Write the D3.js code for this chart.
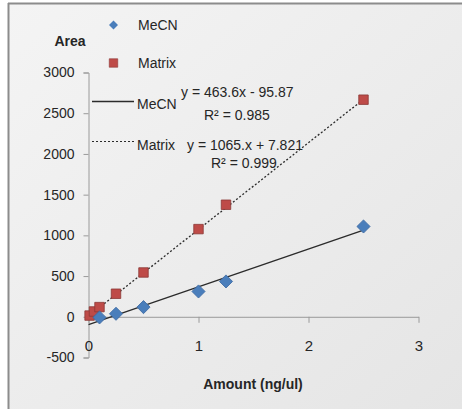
<!DOCTYPE html>
<html>
<head>
<meta charset="utf-8">
<script src="https://cdn.jsdelivr.net/npm/d3@7"></script>
<style>
  html, body { margin: 0; padding: 0; background: #ffffff; }
  svg { display: block; }
  text { font-family: "Liberation Sans", Arial, sans-serif; fill: #262626; }
</style>
</head>
<body>
<svg id="chart" width="462" height="409"></svg>
<script>
// Calibration data: peak area vs. amount injected
const matrixAmount = [0.01, 0.05, 0.1, 0.25, 0.5, 1, 1.25, 2.5];
const matrixArea   = [15, 65, 119, 283, 544, 1077, 1376, 2666];
const mecnAmount   = [0.1, 0.25, 0.5, 1, 1.25, 2.5];
const mecnArea     = [-8, 37, 119, 311, 434, 1109];

// Linear fits (slope, intercept, R²)
const mecnFit   = { slope: 463.6, intercept: -95.87, label: "y = 463.6x - 95.87", r2Label: "R² = 0.985" };
const matrixFit = { slope: 1065,  intercept: 7.821,  label: "y = 1065.x + 7.821", r2Label: "R² = 0.999" };
const fitRange  = [0, 2.5];

const xTicks = [0, 1, 2, 3];
const yTicks = [-500, 0, 500, 1000, 1500, 2000, 2500, 3000];

const svg = d3.select("#chart");
const textColor = "#262626";

// chart area background with a soft gradient
const defs = svg.append("defs");
const grad = defs.append("linearGradient").attr("id", "bg")
  .attr("x1", "0").attr("y1", "0").attr("x2", "1").attr("y2", "1");
grad.append("stop").attr("offset", "0%").attr("stop-color", "#f4f4f4");
grad.append("stop").attr("offset", "100%").attr("stop-color", "#e5e5e5");

svg.append("rect").attr("x", 8).attr("y", 3).attr("width", 454).attr("height", 406)
  .attr("fill", "url(#bg)");
svg.append("line").attr("x1", 8).attr("x2", 462).attr("y1", 3.5).attr("y2", 3.5)
  .attr("stroke", "#8c8c8c").attr("stroke-width", 2);
svg.append("line").attr("x1", 8.5).attr("x2", 8.5).attr("y1", 3).attr("y2", 409)
  .attr("stroke", "#8c8c8c").attr("stroke-width", 2);

const x = d3.scaleLinear().domain([0, 3]).range([88.5, 418.5]);
const y = d3.scaleLinear().domain([-500, 3000]).range([357.5, 72.5]);

// Y axis
const yAxis = svg.append("g").attr("transform", `translate(${x(0)},0)`)
  .call(d3.axisLeft(y).tickValues(yTicks).tickSize(5).tickPadding(9).tickFormat(d => String(d)));
yAxis.select(".domain").attr("stroke", "#9a9a9a");
yAxis.selectAll(".tick line").attr("stroke", "#9a9a9a");
yAxis.selectAll(".tick text").attr("font-size", 14).attr("fill", textColor)
  .attr("font-family", "Liberation Sans, Arial, sans-serif");

// X axis on the zero line
const xAxis = svg.append("g").attr("transform", `translate(0,${y(0)})`)
  .call(d3.axisBottom(x).tickValues(xTicks).tickSize(6).tickSizeOuter(0).tickPadding(18).tickFormat(d => String(d)));
xAxis.select(".domain").attr("stroke", "#9a9a9a");
xAxis.selectAll(".tick line").attr("stroke", "#9a9a9a");
xAxis.selectAll(".tick text").attr("font-size", 15).attr("fill", textColor)
  .attr("font-family", "Liberation Sans, Arial, sans-serif");

// Axis titles
svg.append("text").attr("x", 70).attr("y", 46).attr("text-anchor", "middle")
  .attr("font-size", 14).attr("font-weight", "bold").text("Area");
svg.append("text").attr("x", 253).attr("y", 389).attr("text-anchor", "middle")
  .attr("font-size", 14).attr("font-weight", "bold").text("Amount (ng/ul)");

// Trendlines
const fitLine = f => d3.line()
  .x(d => x(d))
  .y(d => y(f.slope * d + f.intercept));

svg.append("path").datum(fitRange).attr("d", fitLine(mecnFit))
  .attr("fill", "none").attr("stroke", "#2b2b2b").attr("stroke-width", 1.3);
svg.append("path").datum(fitRange).attr("d", fitLine(matrixFit))
  .attr("fill", "none").attr("stroke", "#2b2b2b").attr("stroke-width", 1.3)
  .attr("stroke-dasharray", "2,2");

const blue = "#4a7ebb", blueEdge = "#3d6aa3";
const red = "#be4b48", redEdge = "#8c3836";

const diamond = d3.symbol(d3.symbolSquare, 86)();
const square = d3.symbol(d3.symbolSquare, 90)();

// Matrix points
svg.append("g").selectAll("path").data(matrixAmount).join("path")
  .attr("d", square)
  .attr("transform", (d, i) => `translate(${x(d)},${y(matrixArea[i])})`)
  .attr("fill", red).attr("stroke", redEdge).attr("stroke-width", 0.8);

// MeCN points
svg.append("g").selectAll("path").data(mecnAmount).join("path")
  .attr("d", diamond)
  .attr("transform", (d, i) => `translate(${x(d)},${y(mecnArea[i])}) rotate(45)`)
  .attr("fill", blue).attr("stroke", blueEdge).attr("stroke-width", 0.8);

// Legend
const legend = svg.append("g");
legend.append("path").attr("d", d3.symbol(d3.symbolSquare, 40)())
  .attr("transform", "translate(113.5,25) rotate(45)").attr("fill", blue);
legend.append("text").attr("x", 138).attr("y", 30).attr("font-size", 14).text("MeCN");
legend.append("path").attr("d", d3.symbol(d3.symbolSquare, 72)())
  .attr("transform", "translate(113.5,63)").attr("fill", red).attr("stroke", redEdge).attr("stroke-width", 0.6);
legend.append("text").attr("x", 138).attr("y", 68).attr("font-size", 14).text("Matrix");

legend.append("line").attr("x1", 92).attr("x2", 134).attr("y1", 101.5).attr("y2", 101.5)
  .attr("stroke", "#2b2b2b").attr("stroke-width", 1.3);
legend.append("text").attr("x", 137).attr("y", 109).attr("font-size", 14).text("MeCN");
legend.append("line").attr("x1", 92).attr("x2", 134).attr("y1", 141.5).attr("y2", 141.5)
  .attr("stroke", "#2b2b2b").attr("stroke-width", 1.2).attr("stroke-dasharray", "2,2");
legend.append("text").attr("x", 137).attr("y", 150).attr("font-size", 14).text("Matrix");

// Equation labels
svg.append("text").attr("x", 181).attr("y", 97).attr("font-size", 14).text(mecnFit.label);
svg.append("text").attr("x", 204).attr("y", 120).attr("font-size", 14).text(mecnFit.r2Label);
svg.append("text").attr("x", 187).attr("y", 150).attr("font-size", 14).text(matrixFit.label);
svg.append("text").attr("x", 211).attr("y", 168).attr("font-size", 14).text(matrixFit.r2Label);
</script>
</body>
</html>
